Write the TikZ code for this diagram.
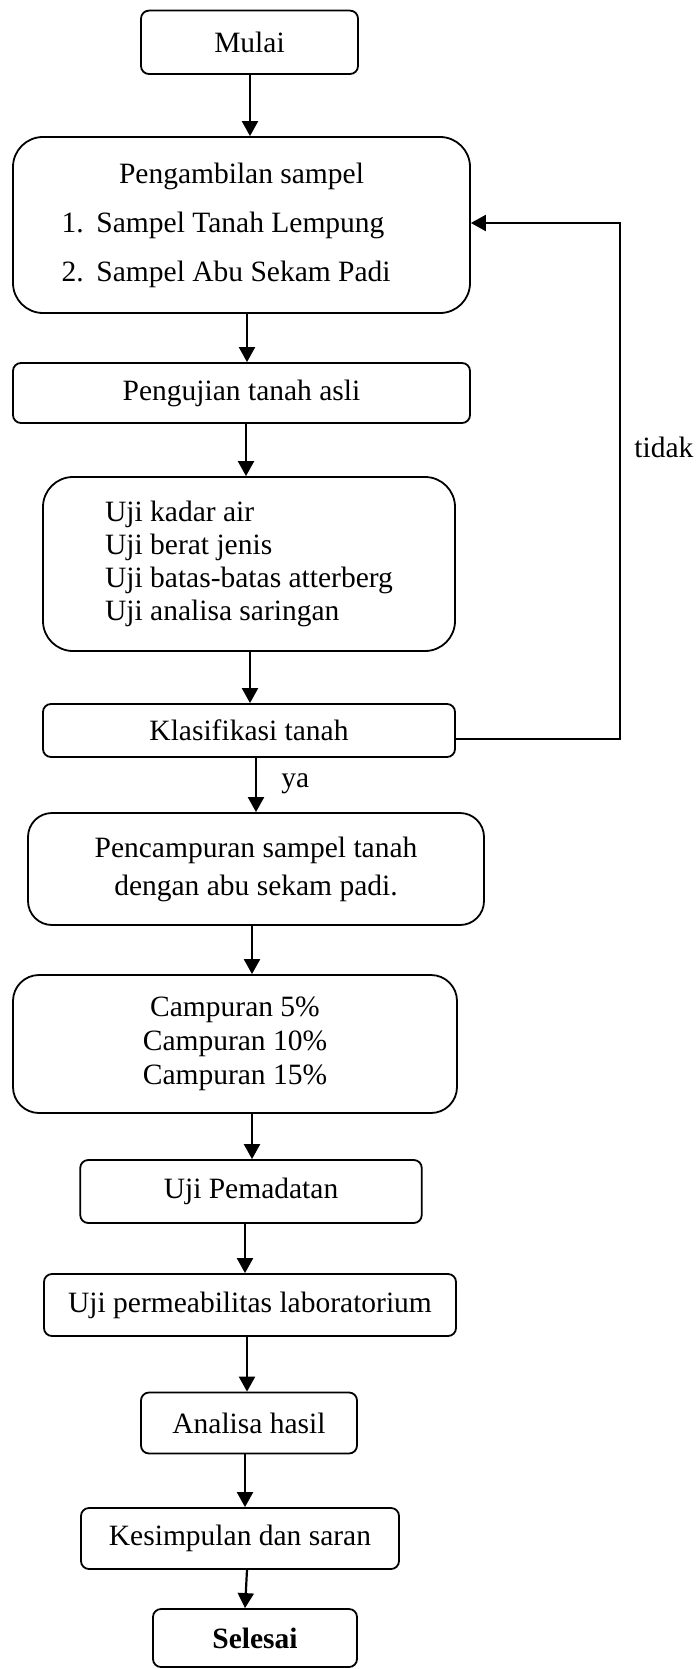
\documentclass[tikz,border=0pt]{standalone}
\usepackage{fontspec}
\setmainfont{Liberation Serif}
\usetikzlibrary{arrows.meta}
\begin{document}
\begin{tikzpicture}[x=0.5pt,y=-0.5pt,
  every node/.style={font=\fontsize{14.75pt}{16.5pt}\selectfont},
  box/.style={draw, line width=0.9pt, fill=white, inner sep=0pt, align=center, rounded corners=4pt},
  bigbox/.style={box, rounded corners=15pt},
  midbox/.style={box, rounded corners=12pt},
  arr/.style={line width=1.1pt, -{Triangle[length=7.5pt,width=8pt]}},
  lbl/.style={inner sep=0pt, anchor=base west}
]
\useasboundingbox (0,0) rectangle (698,1669);

\node[box, minimum width=108.5pt, minimum height=31.7pt] (mulai) at (249.5,42.3) {Mulai};

\node[bigbox, minimum width=228.5pt, minimum height=88pt] (ambil) at (241.5,225)
  {Pengambilan sampel\\[8pt]
   \makebox[180pt][l]{\makebox[17.5pt][l]{1.}Sampel Tanah Lempung}\\[8pt]
   \makebox[180pt][l]{\makebox[17.5pt][l]{2.}Sampel Abu Sekam Padi}};

\node[box, minimum width=228.5pt, minimum height=30pt] (asli) at (241.5,393) {Pengujian tanah asli};

\node[bigbox, minimum width=206pt, minimum height=87pt, align=left] (ujilist) at (249,564)
  {Uji kadar air\\ Uji berat jenis\\ Uji batas-batas atterberg\\ Uji analisa saringan};

\node[box, minimum width=206pt, minimum height=26.5pt] (klas) at (249,730.5) {Klasifikasi tanah};

\node[midbox, minimum width=228pt, minimum height=56pt] (campur) at (256,869)
  {Pencampuran sampel tanah\\[2.5pt] dengan abu sekam padi.};

\node[bigbox, rounded corners=13pt, minimum width=222pt, minimum height=69pt] (persen) at (235,1044)
  {Campuran 5\%\\[0.5pt] Campuran 10\%\\[0.5pt] Campuran 15\%};

\node[box, minimum width=170.75pt, minimum height=31.5pt] (padat) at (251,1191.5) {Uji Pemadatan};

\node[box, minimum width=206pt, minimum height=31pt] (perm) at (250,1305) {Uji permeabilitas laboratorium};

\node[box, minimum width=108pt, minimum height=30.5pt] (analisa) at (249,1423) {Analisa hasil};

\node[box, minimum width=159pt, minimum height=30.5pt] (kesimp) at (240,1538.5) {Kesimpulan dan saran};

\node[box, minimum width=102pt, minimum height=29pt] (selesai) at (255,1638) {\textbf{Selesai}};

% vertical connectors
\draw[arr] ([xshift=0.25pt]mulai.south) -- ([xshift=0.25pt]mulai.south |- ambil.north);
\draw[arr] ([xshift=2.75pt]ambil.south) -- ([xshift=2.75pt]ambil.south |- asli.north);
\draw[arr] ([xshift=2.25pt]asli.south) -- ([xshift=2.25pt]asli.south |- ujilist.north);
\draw[arr] ([xshift=0.5pt]ujilist.south) -- ([xshift=0.5pt]ujilist.south |- klas.north);
\draw[arr] ([xshift=3.5pt]klas.south) -- ([xshift=3.5pt]klas.south |- campur.north);
\draw[arr] ([xshift=-2pt]campur.south) -- ([xshift=-2pt]campur.south |- persen.north);
\draw[arr] ([xshift=8.5pt]persen.south) -- ([xshift=8.5pt]persen.south |- padat.north);
\draw[arr] ([xshift=-3pt]padat.south) -- ([xshift=-3pt]padat.south |- perm.north);
\draw[arr] ([xshift=-1.5pt]perm.south) -- ([xshift=-1.5pt]perm.south |- analisa.north);
\draw[arr] ([xshift=-2pt]analisa.south) -- ([xshift=-2pt]analisa.south |- kesimp.north);
\draw[arr] ([xshift=3.5pt]kesimp.south) -- ([xshift=2.5pt]kesimp.south |- selesai.north);

% feedback loop
\coordinate (fb) at (620,223);
\draw[arr] ([yshift=-4.25pt]klas.east) -| (fb) -- (fb -| ambil.east);

% labels
\node[lbl] (tidak) at (634,457) {tidak};
\node[lbl] (ya) at (281,787) {ya};
\end{tikzpicture}
\end{document}
